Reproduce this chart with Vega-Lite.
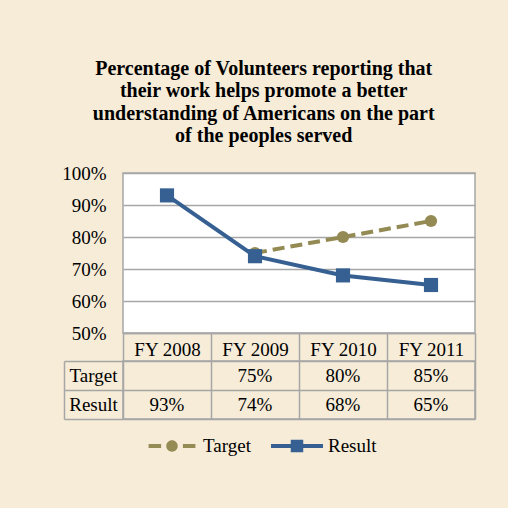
{
  "$schema": "https://vega.github.io/schema/vega-lite/v6.json",
  "background": "#F6ECD8",
  "padding": {"left": 60, "top": 58, "right": 60, "bottom": 70},
  "title": {
    "text": ["Percentage of Volunteers reporting that", "their work helps promote a better", "understanding of Americans on the part", "of the peoples served"],
    "font": "Liberation Serif",
    "fontSize": 20,
    "fontWeight": "bold",
    "lineHeight": 22.5,
    "color": "black",
    "anchor": "middle",
    "offset": 17,
    "dx": -5
  },
  "data": {
    "values": [
      {"year": "FY 2009", "series": "Target", "value": 0.75},
      {"year": "FY 2010", "series": "Target", "value": 0.80},
      {"year": "FY 2011", "series": "Target", "value": 0.85},
      {"year": "FY 2008", "series": "Result", "value": 0.93},
      {"year": "FY 2009", "series": "Result", "value": 0.74},
      {"year": "FY 2010", "series": "Result", "value": 0.68},
      {"year": "FY 2011", "series": "Result", "value": 0.65}
    ]
  },
  "bounds": "flush",
  "spacing": 28,
  "vconcat": [
    {
      "width": 352,
      "height": 160,
      "view": {"fill": "white", "stroke": "#A6A6A6", "strokeWidth": 1.5},
      "encoding": {
        "x": {
          "field": "year", "type": "nominal", "bandPosition": 0.5,
          "scale": {"type": "band", "domain": ["FY 2008", "FY 2009", "FY 2010", "FY 2011"], "paddingInner": 0, "paddingOuter": 0},
          "axis": {
            "title": null, "orient": "bottom", "domain": true, "domainColor": "#A6A6A6", "domainWidth": 1.5,
            "ticks": true, "tickBand": "extent", "tickSize": 28, "tickColor": "#A6A6A6", "tickWidth": 1.5,
            "labelBaseline": "alphabetic", "labelPadding": -6, "labelAngle": 0,
            "labelFont": "Liberation Serif", "labelFontSize": 19, "labelColor": "black", "grid": false
          }
        },
        "y": {
          "field": "value", "type": "quantitative",
          "scale": {"domain": [0.5, 1], "nice": false, "zero": false},
          "axis": {
            "title": null, "values": [0.5, 0.6, 0.7, 0.8, 0.9, 1.0], "format": ".0%",
            "domain": false, "ticks": false, "labelPadding": 17,
            "grid": true, "gridColor": "#A6A6A6", "gridWidth": 1.5,
            "labelFont": "Liberation Serif", "labelFontSize": 19, "labelColor": "black"
          }
        }
      },
      "layer": [
        {
          "transform": [{"filter": "datum.series === 'Target'"}],
          "mark": {"type": "line", "color": "#948A54", "strokeWidth": 4, "strokeDash": [12, 6]}
        },
        {
          "transform": [{"filter": "datum.series === 'Target'"}],
          "mark": {"type": "point", "shape": "circle", "filled": true, "color": "#948A54", "size": 150, "opacity": 1}
        },
        {
          "transform": [{"filter": "datum.series === 'Result'"}],
          "mark": {"type": "line", "color": "#376092", "strokeWidth": 4}
        },
        {
          "transform": [{"filter": "datum.series === 'Result'"}],
          "mark": {"type": "point", "shape": "square", "filled": true, "color": "#376092", "size": 200, "opacity": 1}
        },
        {
          "mark": {"type": "point", "filled": true, "opacity": 0, "size": 2704},
          "encoding": {
            "color": {
              "field": "series", "type": "nominal",
              "scale": {"domain": ["Target", "Result"], "range": ["#948A54", "#376092"]},
              "legend": {
                "title": null, "orient": "none", "legendX": 23, "legendY": 247, "direction": "horizontal",
                "symbolSize": 2704, "symbolOpacity": 1, "symbolStrokeWidth": 0,
                "labelFont": "Liberation Serif", "labelFontSize": 19, "labelColor": "black",
                "labelOffset": 5, "columnPadding": 20
              }
            },
            "shape": {
              "field": "series", "type": "nominal",
              "scale": {"domain": ["Target", "Result"], "range": [
                "M-0.9,-0.08H-0.42V0.08H-0.9Z M0.42,-0.08H0.9V0.08H0.42Z M-0.22,0A0.22,0.22 0 1,0 0.22,0A0.22,0.22 0 1,0 -0.22,0Z",
                "M-1,-0.08H1V0.08H-1Z M-0.24,-0.24H0.24V0.24H-0.24Z"
              ]},
              "legend": {
                "title": null, "orient": "none", "legendX": 23, "legendY": 247, "direction": "horizontal",
                "symbolSize": 2704, "symbolOpacity": 1, "symbolStrokeWidth": 0,
                "labelFont": "Liberation Serif", "labelFontSize": 19, "labelColor": "black",
                "labelOffset": 5, "columnPadding": 20
              }
            }
          }
        }
      ]
    },
    {
      "width": 352,
      "height": 58,
      "view": {"stroke": "#A6A6A6", "strokeWidth": 1.5},
      "mark": {"type": "text", "font": "Liberation Serif", "fontSize": 19, "color": "black", "baseline": "middle", "align": "center"},
      "encoding": {
        "x": {
          "field": "year", "type": "nominal", "bandPosition": 0.5,
          "scale": {"type": "band", "domain": ["FY 2008", "FY 2009", "FY 2010", "FY 2011"], "paddingInner": 0, "paddingOuter": 0},
          "axis": {"title": null, "orient": "top", "labels": false, "ticks": false, "domain": false, "grid": true, "tickBand": "extent", "gridColor": "#A6A6A6", "gridWidth": 1.5}
        },
        "y": {
          "field": "series", "type": "nominal", "bandPosition": 0.5,
          "scale": {"type": "band", "domain": ["Target", "Result"], "paddingInner": 0, "paddingOuter": 0},
          "axis": {
            "title": null, "offset": 59, "domain": true, "domainColor": "#A6A6A6", "domainWidth": 1.5,
            "ticks": true, "tickBand": "extent", "tickSize": -59, "tickColor": "#A6A6A6", "tickWidth": 1.5,
            "grid": true, "gridColor": "#A6A6A6", "gridWidth": 1.5,
            "labelAlign": "center", "labelBaseline": "middle", "labelPadding": 30,
            "labelFont": "Liberation Serif", "labelFontSize": 19, "labelColor": "black"
          }
        },
        "text": {"field": "value", "type": "quantitative", "format": ".0%"}
      }
    }
  ]
}
